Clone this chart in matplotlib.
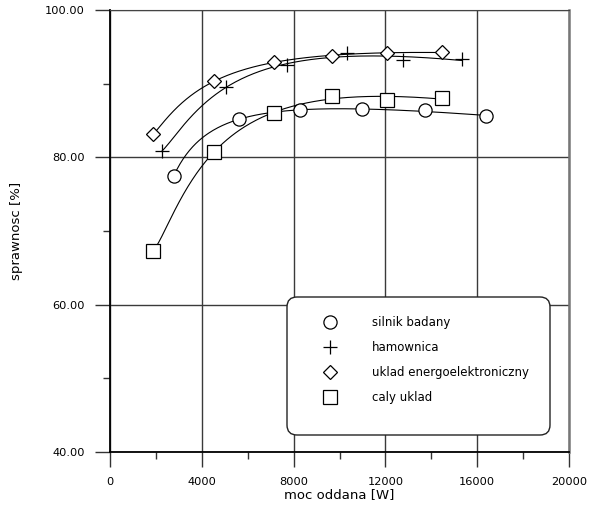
import matplotlib
matplotlib.use('Agg')
import matplotlib.pyplot as plt
from matplotlib.lines import Line2D
from matplotlib.patches import FancyBboxPatch
import numpy as np

# data (power in W, efficiency in %)
silnik_x = [2780, 5620, 8300, 10970, 13720, 16380]
silnik_y = [77.5, 85.2, 86.4, 86.5, 86.4, 85.6]
hamow_x = [2250, 5040, 7720, 10320, 12780, 15330]
hamow_y = [80.8, 89.5, 92.5, 94.2, 93.2, 93.3]
uklad_x = [1880, 4540, 7150, 9680, 12060, 14450]
uklad_y = [83.1, 90.3, 93.0, 93.75, 94.2, 94.25]
caly_x = [1880, 4540, 7150, 9680, 12060, 14450]
caly_y = [67.3, 80.75, 86.05, 88.3, 87.8, 88.1]

labels = ['silnik badany', 'hamownica', 'uklad energoelektroniczny', 'caly uklad']
markers = ['o', '+', 'D', 's']
msizes = [9.5, 10.5, 7.5, 10.5]

plt.rcParams['font.family'] = 'DejaVu Sans'

def trend(x, y):
    # least squares trend line: a + b*x + c/x + d/x^2 (x in kW)
    x = np.asarray(x) / 1000.0
    y = np.asarray(y)
    A = np.column_stack([np.ones_like(x), x, 1 / x, 1 / x**2])
    coef = np.linalg.lstsq(A, y, rcond=None)[0]
    xs = np.linspace(x.min(), x.max(), 200)
    ys = coef[0] + coef[1] * xs + coef[2] / xs + coef[3] / xs**2
    return xs * 1000, ys

fig = plt.figure(figsize=(5.94, 5.08), dpi=100)
ax = fig.add_axes([110 / 594, 56 / 508, 459 / 594, 442 / 508])

series = [(silnik_x, silnik_y), (hamow_x, hamow_y), (uklad_x, uklad_y), (caly_x, caly_y)]
for (x, y), m, ms in zip(series, markers, msizes):
    xs, ys = trend(x, y)
    ax.plot(xs, ys, color='black', lw=0.8, zorder=3)
    ax.plot(x, y, linestyle='none', marker=m, ms=ms, mfc='white', mec='black', mew=0.9, zorder=4)

ax.set_xlim(0, 20000)
ax.set_ylim(40, 100)
ax.set_xticks(np.arange(0, 20001, 4000))
ax.set_xticks(np.arange(2000, 20000, 4000), minor=True)
ax.set_yticks([40, 60, 80, 100])
ax.set_yticks([50, 70, 90], minor=True)
ax.set_yticklabels(['%.2f' % v for v in [40, 60, 80, 100]])
ax.tick_params(which='major', direction='out', length=11, width=1, pad=7, labelsize=8.2, color='#333333')
ax.tick_params(which='minor', direction='out', length=5, width=1, color='#333333')
ax.grid(True, which='major', color='#3a3a3a', lw=1)

for s in ['left', 'bottom']:
    ax.spines[s].set_linewidth(1.3)
    ax.spines[s].set_color('black')
ax.spines['top'].set_color('#444444')
ax.spines['right'].set_color('#777777')
ax.spines['right'].set_linewidth(1.8)

ax.set_xlabel('moc oddana [W]', fontsize=9.5, labelpad=1)
ax.set_ylabel('sprawnosc [%]', fontsize=9.5, labelpad=16)

# legend box
box = FancyBboxPatch((287, 508 - 435), 263, 138, boxstyle='round,pad=0,rounding_size=10',
                     transform=None, facecolor='white', edgecolor='#222222', lw=1, zorder=5)
ax.add_artist(box)
handles = [Line2D([], [], linestyle='none', marker=m, ms=ms, mfc='white', mec='black', mew=0.9)
           for m, ms in zip(markers, msizes)]
leg = ax.legend(handles, labels, loc='upper left', frameon=False, fontsize=8.5,
                bbox_to_anchor=(318 / 594, (508 - 316) / 508), bbox_transform=fig.transFigure,
                borderpad=0, borderaxespad=0, handlelength=2, handletextpad=2.6, labelspacing=1.02)
leg.set_zorder(6)

fig.savefig('out.png', dpi=100)
